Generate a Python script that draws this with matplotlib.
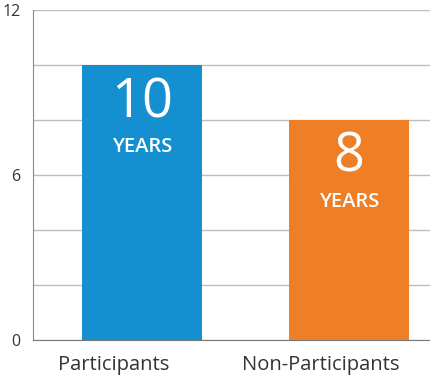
import matplotlib.pyplot as plt
from matplotlib.transforms import ScaledTranslation

categories = ['Participants', 'Non-Participants']
years = [10, 8]
bar_colors = ['#1490d0', '#ee7f26']
yticks = [0, 6, 12]

plt.rcParams['font.family'] = ['Open Sans', 'DejaVu Sans']

fig = plt.figure(figsize=(4.30, 3.79), dpi=100)
ax = fig.add_axes([33 / 430, 39 / 379, 397 / 430, 330 / 379])

x = range(len(categories))
bars = ax.bar(x, years, width=0.58, color=bar_colors, zorder=3)

ax.set_xlim(-0.527, 1.391)
ax.set_ylim(0, 12)
ax.set_yticks(yticks)
ax.set_yticks(range(0, 13, 2), minor=True)
ax.grid(axis='y', which='both', color='#bdbdbd', linewidth=1, zorder=0)
ax.tick_params(axis='y', which='both', length=0, pad=9, labelsize=11.5, labelcolor='#333333')
ax.set_xticks(list(x))
ax.set_xticklabels(categories)
ax.tick_params(axis='x', length=0, pad=11, labelsize=14.5, labelcolor='#333333')

# category labels sit a bit left of the bar centres
shift = ScaledTranslation(-0.28, 0, fig.dpi_scale_trans)
for lab in ax.get_xticklabels():
    lab.set_transform(lab.get_transform() + shift)

for s in ['top', 'right']:
    ax.spines[s].set_visible(False)
ax.spines['left'].set_color('#8a8a8a')
ax.spines['bottom'].set_color('#777777')
ax.spines['bottom'].set_zorder(4)

# numbers inside the bars
for b, v in zip(bars, years):
    cx = b.get_x() + b.get_width() / 2
    ax.annotate(str(v), (cx, v), xytext=(0, -27), textcoords='offset points',
                ha='center', va='center', color='white', fontsize=39, zorder=5)
    ax.annotate('YEARS', (cx, v), xytext=(0, -59), textcoords='offset points',
                ha='center', va='center', color='white', fontsize=14.5,
                fontweight='semibold', zorder=5)

fig.savefig('out.png', dpi=100)
